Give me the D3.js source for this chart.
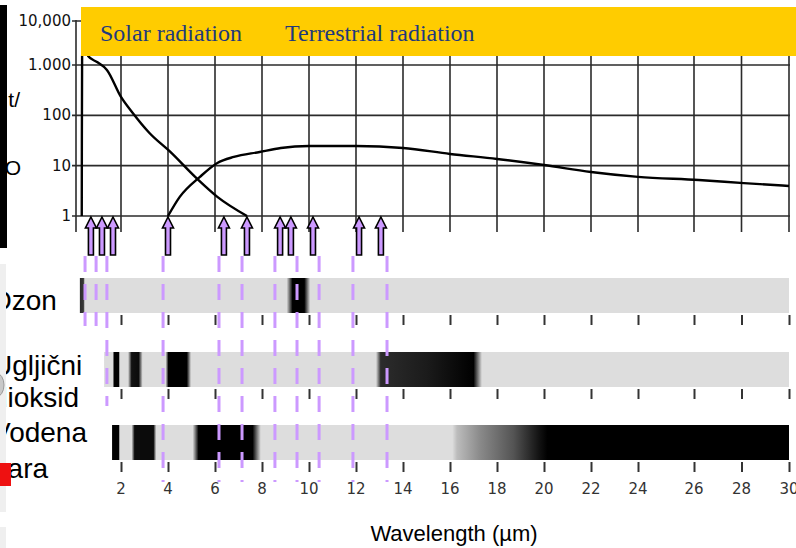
<!DOCTYPE html>
<head>
  <meta charset="utf-8">
  <style>
  body { margin: 0; background: #fff; }
  svg { display: block; font-family: "Liberation Sans", Arial, sans-serif; }

  .grid line {
    stroke: #2b2b2b;
    stroke-width: 1.6px;
  }

  .curve {
    fill: none;
    stroke: #000;
    stroke-width: 2.4px;
  }

  .band-ticks line {
    stroke: #333;
    stroke-width: 2px;
  }
  </style>
  <script src="https://cdn.jsdelivr.net/npm/d3@7/dist/d3.min.js"></script>
</head>

<body>
  <svg width="796" height="548"></svg>

  <script>

  // wavelength ticks (µm) and intensity ticks
  var xTicks = [2, 4, 6, 8, 10, 12, 14, 16, 18, 20, 22, 24, 26, 28, 30];
  var yTicks = [1, 10, 100, 1000, 10000];
  var yTickLabels = ["1", "10", "100", "1.000", "10,000"];

  // solar and terrestrial emission curves [wavelength, intensity]
  var solar = [[0.33, 1], [0.335, 40], [0.345, 1500], [0.4, 5000], [0.5, 3500],
    [0.6, 1600], [1.0, 1150], [1.4, 800], [2.0, 232], [2.5, 111], [3.2, 45],
    [4.1, 18.7], [5.2, 5.7], [6.1, 2.4], [7.36, 1]];
  var terrestrial = [[4.0, 1], [4.5, 2.4], [5.36, 6], [6.1, 11.3], [6.8, 14.9],
    [7.9, 18.7], [8.8, 22.5], [10, 24.6], [12, 24.6], [14, 22.5], [16, 17.1],
    [18, 13.6], [20, 10.3], [22, 7.5], [24, 6], [26.2, 5.2], [28.1, 4.5], [30, 3.95]];

  // arrow marks and dashed guide lines (µm)
  var arrows = [0.72, 1.19, 1.66, 4.0, 6.38, 7.36, 8.77, 9.23, 10.17, 12.13, 13.06];
  var guides = [0.47, 0.94, 1.40, 3.79, 6.17, 7.15, 8.55, 9.49, 10.43, 11.87, 13.32];
  var guideReach = [0, 0, 1, 2, 2, 2, 2, 2, 2, 2, 2];   // last band each guide reaches

  // absorption bands: label lines, start wavelength, [wavelength, darkness] stops
  var gasLabels = [["Ozon"], ["Ugljični", "dioksid"], ["Vodena", "para"]];
  var gasStart = [0.25, 1.28, 1.62];
  var ozone = [[0.25, 0.8], [0.4, 0.75], [0.46, 0], [9.05, 0], [9.3, 1], [9.8, 1], [10.05, 0], [30, 0]];
  var co2 = [[1.28, 0], [1.66, 0], [1.7, 1], [1.9, 1], [1.95, 0], [2.3, 0], [2.45, 0.92],
    [2.75, 0.95], [2.92, 0], [3.9, 0], [4.02, 1], [4.8, 1], [4.98, 0], [12.85, 0],
    [13.05, 0.8], [15, 0.88], [17.0, 1], [17.36, 0], [30, 0]];
  var water = [[1.62, 1], [1.9, 1], [1.95, 0], [2.45, 0], [2.58, 0.95], [3.38, 0.95],
    [3.5, 0], [5.05, 0], [5.3, 1], [7.6, 1], [7.95, 0], [16.1, 0], [16.3, 0.15],
    [17.3, 0.38], [18.7, 0.62], [19.8, 0.92], [20.15, 1], [30, 1]];
  var absorption = [ozone, co2, water];

  var svg = d3.select("svg");

  // the drawn axis is not quite even, so use a piecewise scale
  var x = d3.scaleLinear().domain([2, 24, 26, 30]).range([121, 638, 694, 789]);
  var y = d3.scaleLog().domain([1, 1000, 10000]).range([216, 65, 21]);

  var gridTop = 56, gridBottom = 232, axisX = 76;

  // ---- top chart ----
  var grid = svg.append("g").attr("class", "grid");

  grid.selectAll(".v").data(xTicks).enter().append("line")
    .attr("x1", function(d) { return x(d); })
    .attr("x2", function(d) { return x(d); })
    .attr("y1", gridTop).attr("y2", gridBottom);

  grid.selectAll(".h").data(yTicks).enter().append("line")
    .attr("x1", 72).attr("x2", x(30) + 1)
    .attr("y1", function(d) { return y(d); })
    .attr("y2", function(d) { return y(d); });

  grid.append("line")
    .attr("x1", axisX).attr("x2", axisX)
    .attr("y1", y(10000) - 1).attr("y2", gridBottom);

  svg.append("g").selectAll("text").data(yTicks).enter().append("text")
    .attr("x", 71)
    .attr("y", function(d) { return y(d) + 5; })
    .attr("text-anchor", "end")
    .style("font-family", "'DejaVu Sans', sans-serif")
    .style("font-size", "15px")
    .attr("fill", "#111")
    .text(function(d, i) { return yTickLabels[i]; });

  var line = d3.line()
    .x(function(d) { return x(d[0]); })
    .y(function(d) { return y(d[1]); })
    .curve(d3.curveMonotoneX);

  svg.append("path").datum(solar).attr("class", "curve").attr("d", line);
  svg.append("path").datum(terrestrial).attr("class", "curve").attr("d", line);

  // banner
  svg.append("rect")
    .attr("x", 81).attr("y", 7)
    .attr("width", 796 - 81).attr("height", gridTop - 7)
    .attr("fill", "#ffcc00");

  svg.selectAll(".banner").data([["Solar radiation", 100], ["Terrestrial radiation", 285]])
    .enter().append("text")
    .attr("x", function(d) { return d[1]; })
    .attr("y", 41)
    .style("font-family", "'Liberation Serif', 'Times New Roman', serif")
    .style("font-size", "24px")
    .attr("fill", "#1f3a7c")
    .text(function(d) { return d[0]; });

  // ---- absorption bands ----
  var bandTop = [278, 352, 425], bandH = 35;
  var grey = "#dddddd";
  var shade = d3.interpolateRgb(grey, "#000");
  var defs = svg.append("defs");

  absorption.forEach(function(stops, i) {
    var x0 = x(gasStart[i]), x1 = x(30);
    var grad = defs.append("linearGradient")
      .attr("id", "gas" + i)
      .attr("gradientUnits", "userSpaceOnUse")
      .attr("x1", x0).attr("x2", x1).attr("y1", 0).attr("y2", 0);
    grad.selectAll("stop").data(stops).enter().append("stop")
      .attr("offset", function(d) { return (x(d[0]) - x0) / (x1 - x0); })
      .attr("stop-color", function(d) { return shade(d[1]); });

    svg.append("rect")
      .attr("x", x0).attr("y", bandTop[i])
      .attr("width", x1 - x0).attr("height", bandH)
      .attr("fill", "url(#gas" + i + ")");

    svg.append("g").attr("class", "band-ticks")
      .selectAll("line").data(xTicks).enter().append("line")
      .attr("x1", function(d) { return x(d) + 0.5; })
      .attr("x2", function(d) { return x(d) + 0.5; })
      .attr("y1", bandTop[i] + bandH + 2)
      .attr("y2", bandTop[i] + bandH + 12);

    var lx = [-10, -8, -8][i];
    svg.append("text")
      .attr("y", [310, 375, 442][i])
      .style("font-size", "28px")
      .attr("fill", "#000")
      .selectAll("tspan").data(gasLabels[i]).enter().append("tspan")
      .attr("x", lx)
      .attr("dy", function(d, j) { return j ? [0, 32, 36][i] : 0; })
      .text(function(d) { return d; });
  });

  svg.append("g").selectAll("text").data(xTicks).enter().append("text")
    .attr("x", function(d) { return x(d); })
    .attr("y", 494)
    .attr("text-anchor", "middle")
    .style("font-family", "'DejaVu Sans', sans-serif")
    .style("font-size", "15px")
    .attr("fill", "#333")
    .text(function(d) { return d; });

  svg.append("text")
    .attr("x", 454).attr("y", 541)
    .attr("text-anchor", "middle")
    .style("font-size", "22px")
    .text("Wavelength (µm)");

  // dashed guides
  var guideEnd = [326, 406, 482];
  svg.append("g").selectAll("line").data(guides).enter().append("line")
    .attr("x1", function(d) { return x(d); })
    .attr("x2", function(d) { return x(d); })
    .attr("y1", 256)
    .attr("y2", function(d, i) { return guideEnd[guideReach[i]]; })
    .attr("stroke", "#cc99ff")
    .attr("stroke-width", 3)
    .attr("stroke-dasharray", "16,12");

  // arrows
  var arrowPath = "M0,0 L5.5,11 L2.5,11 L2.5,38 L-2.5,38 L-2.5,11 L-5.5,11 Z";
  svg.append("g").selectAll("path").data(arrows).enter().append("path")
    .attr("transform", function(d) { return "translate(" + x(d) + "," + (y(1) + 1) + ")"; })
    .attr("d", arrowPath)
    .attr("fill", "#cc99ff")
    .attr("stroke", "#000")
    .attr("stroke-width", 1.6)
    .attr("stroke-linejoin", "miter");

  // cropped bits at the left edge
  svg.append("text").attr("x", 20).attr("y", 107).attr("text-anchor", "end")
    .style("font-size", "21px").text("t/");
  svg.append("text").attr("x", 21).attr("y", 175).attr("text-anchor", "end")
    .style("font-size", "21px").text("O");
  svg.append("rect").attr("x", 0).attr("y", 5).attr("width", 7).attr("height", 243).attr("fill", "#000");

  svg.append("rect").attr("x", 0).attr("y", 264).attr("width", 6).attr("height", 248).attr("fill", "#efefef");
  svg.append("rect").attr("x", 0).attr("y", 527).attr("width", 6).attr("height", 21).attr("fill", "#efefef");
  svg.append("ellipse").attr("cx", -4).attr("cy", 385).attr("rx", 8).attr("ry", 12)
    .attr("fill", "#c8c8c8").attr("stroke", "#999");
  svg.append("rect").attr("x", 0).attr("y", 463).attr("width", 11).attr("height", 23).attr("fill", "#ee1111");

  </script>
</body>
